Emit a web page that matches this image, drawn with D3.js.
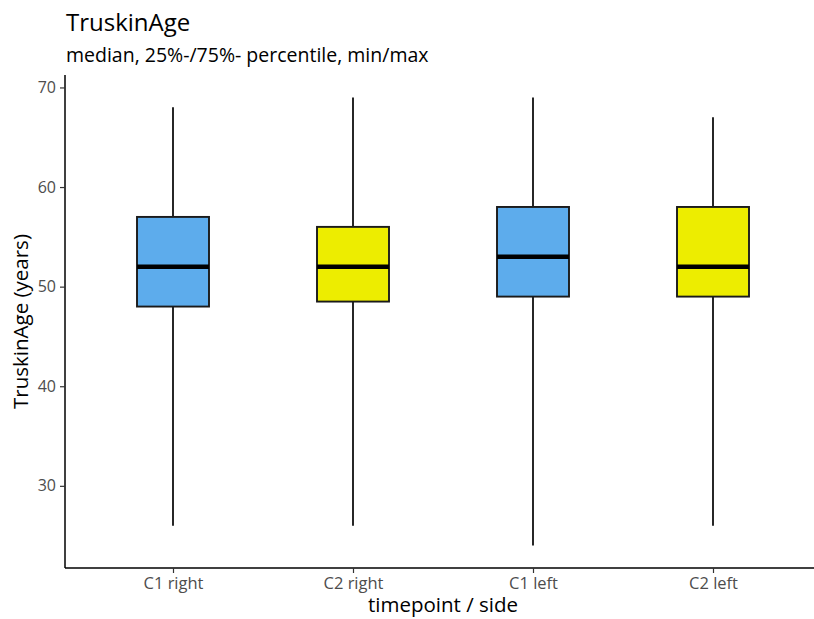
<!DOCTYPE html>
<html>
<head>
<meta charset="utf-8">
<script src="https://cdn.jsdelivr.net/npm/d3@7/dist/d3.min.js"></script>
<style>
  html, body { margin: 0; padding: 0; background: #fff; }
  svg { display: block; font-family: "Open Sans", "Noto Sans", sans-serif; }
</style>
</head>
<body>
<svg id="chart" width="814" height="619"></svg>
<script>
// Summary statistics per group: min, Q1, median, Q3, max
const categories = ["C1 right", "C2 right", "C1 left", "C2 left"];
const minValues    = [26, 26, 24, 26];
const q1Values     = [48, 48.5, 49, 49];
const medianValues = [52, 52, 53, 52];
const q3Values     = [57, 56, 58, 58];
const maxValues    = [68, 69, 69, 67];
const fillColors   = ["#5DACEC", "#EDED00", "#5DACEC", "#EDED00"];
const yTicks = [30, 40, 50, 60, 70];

const FONT = "'Open Sans', 'Noto Sans', sans-serif";
const svg = d3.select("#chart");
const margin = { left: 65, right: -7, top: 75, bottom: 51 };
const W = 814, H = 619;
const x0 = margin.left, x1 = W - margin.right;
const y0 = H - margin.bottom, y1 = margin.top;

const groups = categories.map((c, i) => ({
  cat: c, min: minValues[i], q1: q1Values[i], med: medianValues[i],
  q3: q3Values[i], max: maxValues[i], fill: fillColors[i]
}));

// ggplot-style 5% expansion of the data range
const lo = d3.min(minValues), hi = d3.max(maxValues);
const pad = (hi - lo) * 0.05;
const y = d3.scaleLinear().domain([lo - pad, hi + pad]).range([y0, y1]);

// discrete axis with 0.6 unit expansion on both sides
const x = d3.scalePoint().domain(categories).range([x0, x1]).padding(0.6);
const step = x.step();
const boxW = step * 0.4;

const plot = svg.append("g");

// whiskers
plot.selectAll("line.whisker").data(groups).enter().append("line")
  .attr("class", "whisker")
  .attr("x1", d => x(d.cat)).attr("x2", d => x(d.cat))
  .attr("y1", d => y(d.min)).attr("y2", d => y(d.max))
  .attr("stroke", "#000").attr("stroke-width", 1.7);

// boxes
plot.selectAll("rect.box").data(groups).enter().append("rect")
  .attr("class", "box")
  .attr("x", d => x(d.cat) - boxW / 2)
  .attr("width", boxW)
  .attr("y", d => y(d.q3))
  .attr("height", d => y(d.q1) - y(d.q3))
  .attr("fill", d => d.fill)
  .attr("stroke", "#1a1a1a").attr("stroke-width", 1.9);

// medians
plot.selectAll("line.median").data(groups).enter().append("line")
  .attr("class", "median")
  .attr("x1", d => x(d.cat) - boxW / 2).attr("x2", d => x(d.cat) + boxW / 2)
  .attr("y1", d => y(d.med)).attr("y2", d => y(d.med))
  .attr("stroke", "#000").attr("stroke-width", 4.5);

// y axis
const yAxis = svg.append("g").attr("transform", `translate(${x0},0)`)
  .call(d3.axisLeft(y).tickValues(yTicks).tickSize(5).tickPadding(4));
yAxis.select(".domain").attr("stroke", "#000").attr("stroke-width", 1.5)
  .attr("d", `M0,${y0}V${y1}`);
yAxis.selectAll(".tick line").attr("stroke", "#333").attr("stroke-width", 1.2);
yAxis.selectAll(".tick text").attr("fill", "#4D4D4D")
  .style("font-size", "16px").style("font-family", FONT);

// x axis
const xAxis = svg.append("g").attr("transform", `translate(0,${y0})`)
  .call(d3.axisBottom(x).tickSize(5).tickPadding(4));
xAxis.select(".domain").attr("stroke", "#000").attr("stroke-width", 1.5)
  .attr("d", `M${x0},0H${W}`);
xAxis.selectAll(".tick line").attr("stroke", "#333").attr("stroke-width", 1.2);
xAxis.selectAll(".tick text").attr("fill", "#4D4D4D")
  .style("font-size", "16.5px").style("font-family", FONT);

// titles
svg.append("text").attr("x", 66).attr("y", 31)
  .style("font-size", "24px").attr("fill", "#000").text("TruskinAge");
svg.append("text").attr("x", 66).attr("y", 62)
  .style("font-size", "19.5px").attr("fill", "#000")
  .text("median, 25%-/75%- percentile, min/max");

// axis titles
svg.append("text").attr("x", 443).attr("y", 612)
  .attr("text-anchor", "middle").style("font-size", "20.5px").attr("fill", "#000")
  .text("timepoint / side");
svg.append("text")
  .attr("transform", `translate(28,${(y0 + y1) / 2}) rotate(-90)`)
  .attr("text-anchor", "middle").style("font-size", "20.5px").attr("fill", "#000")
  .text("TruskinAge (years)");
</script>
</body>
</html>
